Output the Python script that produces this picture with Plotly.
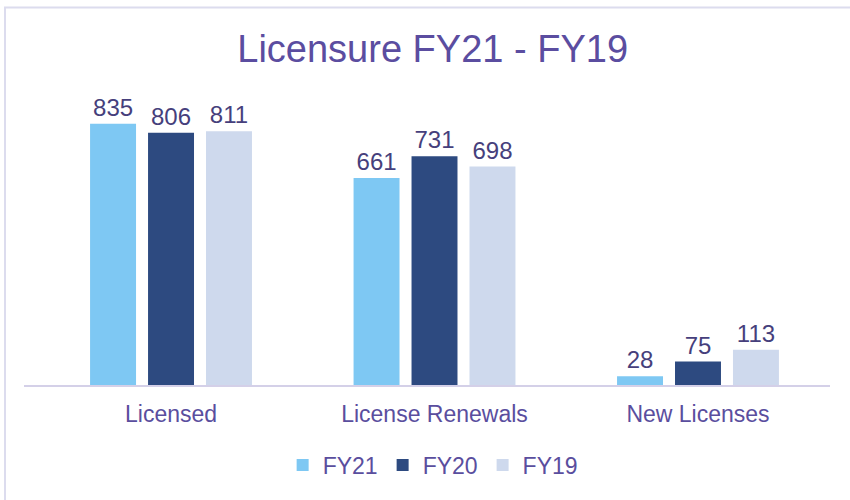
import plotly.graph_objects as go

categories = ["Licensed", "License Renewals", "New Licenses"]
fy21 = [835, 661, 28]
fy20 = [806, 731, 75]
fy19 = [811, 698, 113]

series = [
    ("FY21", fy21, "#7EC8F3"),
    ("FY20", fy20, "#2D4A80"),
    ("FY19", fy19, "#CED9ED"),
]

FONT = "Liberation Sans, Arial, sans-serif"
TITLE_COLOR = "#5B4DA0"
LABEL_COLOR = "#463F7C"
TICK_COLOR = "#5A4E9E"

fig = go.Figure()
for name, values, color in series:
    fig.add_trace(
        go.Bar(
            x=categories,
            y=values,
            name=name,
            marker=dict(color=color, line=dict(width=0)),
            text=values,
            textposition="outside",
            textfont=dict(family=FONT, size=24, color=LABEL_COLOR),
            cliponaxis=False,
        )
    )

fig.update_layout(
    width=850,
    height=500,
    barmode="group",
    bargap=0.34,
    bargroupgap=0.207,
    paper_bgcolor="white",
    plot_bgcolor="white",
    margin=dict(l=24, r=20, t=72, b=115),
    font=dict(family=FONT, color=TICK_COLOR),
    title=dict(
        text="Licensure FY21 - FY19",
        font=dict(family=FONT, size=38, color=TITLE_COLOR),
        x=0.509,
        xanchor="center",
        y=0.902,
        yanchor="middle",
    ),
    legend=dict(
        orientation="h",
        xanchor="center",
        x=0.507,
        yanchor="middle",
        y=-0.256,
        font=dict(family=FONT, size=23, color=TICK_COLOR),
        itemwidth=30,
        tracegroupgap=0,
    ),
    showlegend=True,
    # chart border, only top and left edges show in the frame
    shapes=[
        dict(
            type="rect",
            xref="paper",
            yref="paper",
            x0=-0.0236,
            x1=1.2,
            y0=-0.6,
            y1=1.206,
            line=dict(color="#DCDCEE", width=2),
            fillcolor="rgba(0,0,0,0)",
            layer="below",
        )
    ],
)

fig.update_xaxes(
    range=[-0.558, 2.501],
    showline=True,
    linecolor="#D4D0E8",
    linewidth=2,
    ticks="",
    tickfont=dict(family=FONT, size=23, color=TICK_COLOR),
    ticklabelstandoff=7,
    showgrid=False,
    zeroline=False,
)
fig.update_yaxes(
    range=[0, 1000],
    visible=False,
    showgrid=False,
    zeroline=False,
)

# drop the default 8px page margin so the figure sits at the window corner
fig.write_html(
    "out.html",
    config={"displayModeBar": False},
    post_script="document.body.style.margin='0px';",
)
